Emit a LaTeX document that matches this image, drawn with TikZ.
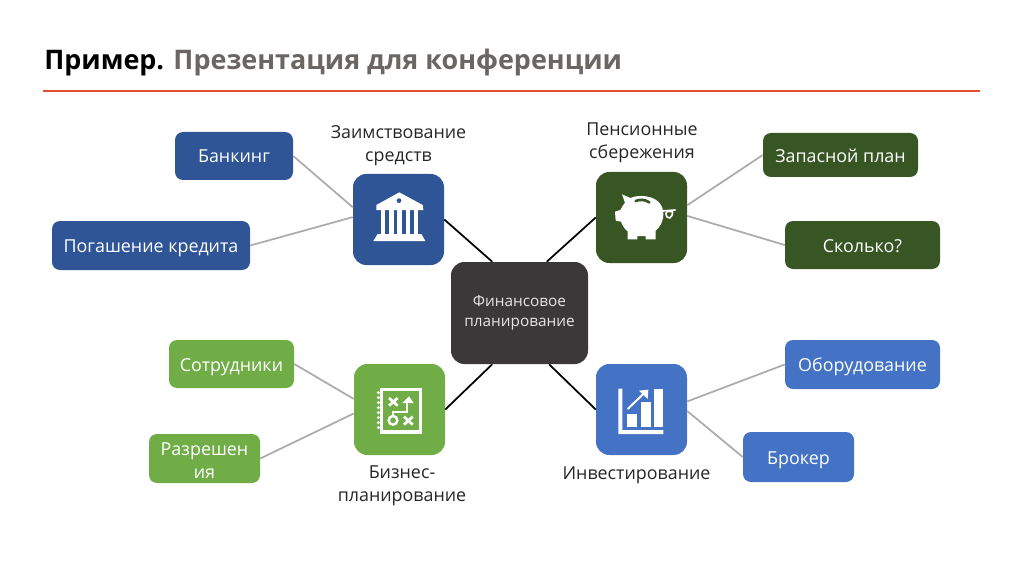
\documentclass[tikz,border=0pt]{standalone}
\usepackage{fontspec}
\setmainfont{Open Sans}
\usetikzlibrary{positioning,arrows.meta}
\definecolor{cbank}{HTML}{2F5597}
\definecolor{cpig}{HTML}{375623}
\definecolor{cbiz}{HTML}{70AD47}
\definecolor{cinv}{HTML}{4472C4}
\definecolor{ccore}{HTML}{3A3838}
\definecolor{ctitle}{HTML}{6B6663}
\definecolor{crule}{HTML}{E2502F}
\tikzset{
  leaf/.style={rounded corners=6pt,text=white,align=center,font=\fontsize{13.4}{17}\selectfont,inner sep=0pt},
  hub/.style={rounded corners=10pt,minimum width=68.25pt,minimum height=68.25pt,inner sep=0pt},
  core/.style={rounded corners=10pt,fill=ccore,text=white!90!black,align=center,minimum width=102.75pt,minimum height=76.5pt,inner sep=0pt,font=\fontsize{11.5}{15.2}\selectfont},
  hubcap/.style={align=center,text=black!85,font=\fontsize{13.4}{17.4}\selectfont,inner sep=0pt},
  spoke/.style={line width=1.3pt,black},
  twig/.style={line width=1.3pt,black!33},
  icon/.style={shift={#1},x=.25pt,y=-.25pt},
}
\begin{document}
\begin{tikzpicture}[x=.75pt,y=-.75pt]
  \useasboundingbox (0,0) rectangle (1024,574);
  % title
  \node[anchor=base west,inner sep=0pt,font=\fontsize{20.2}{26}\bfseries\selectfont] (title) at (44,70)
    {Пример. \textcolor{ctitle}{Презентация для конференции}};
  \coordinate (ruleL) at (43,91);
  \coordinate (ruleR) at (980,91);
  \draw[line width=1.3pt,crule] (ruleL) -- (ruleR);

  % centre and the four hubs
  \node[core] (core) at (519.5,313) {Финансовое\\планирование};
  \foreach \n/\x/\y/\c in {bank/398.5/219.5/cbank, pig/641.5/217.5/cpig,
                           biz/399.5/409.5/cbiz, inv/641.5/409.5/cinv}{
    \node[hub,fill=\c] (\n) at (\x,\y) {};
  }

  % leaves
  \foreach \n/\x/\y/\w/\h/\c/\t in {banking/234/156/88.5/36/cbank/Банкинг,
      credit/151/245.5/148.5/36.75/cbank/Погашение кредита,
      spare/840.5/155/116.25/33/cpig/Запасной план,
      howmuch/862.5/245/116.25/36/cpig/Сколько?,
      staff/231.5/364/93.75/36/cbiz/Сотрудники,
      equip/862.5/364.5/116.25/36.75/cinv/Оборудование,
      broker/798.5/457/83.25/37.5/cinv/Брокер}{
    \node[leaf,fill=\c,text height=10.5pt,text depth=0pt,minimum width=\w pt,minimum height=\h pt] (\n) at (\x,\y) {\t};
  }
  \node[leaf,fill=cbiz,minimum width=83.25pt,minimum height=36.75pt] (permit) at (204.5,458.5)
    {\rule{0pt}{12.5pt}Разрешен\\ия};

  % captions
  \node[hubcap] (capbank) at (398.5,146) {Заимствование\\средств};
  \node[hubcap] (cappig) at (642,142.5) {Пенсионные\\сбережения};
  \node[hubcap] (capbiz) at (402,485.5) {Бизнес-\\планирование};
  \node[hubcap] (capinv) at (636.5,475) {Инвестирование};

  % connectors
  \draw[spoke] (bank.east) -- (core.118);
  \draw[spoke] (pig.west) -- (core.62);
  \draw[spoke] (biz.east) -- (core.-118);
  \draw[spoke] (inv.west) -- (core.-60);
  \draw[twig] (banking.east) -- (bank.165);
  \draw[twig] (credit.east) -- (bank.177);
  \draw[twig] (pig.15) -- (spare.west);
  \draw[twig] (pig.2) -- (howmuch.west);
  \draw[twig] (staff.east) -- (biz.167);
  \draw[twig] (permit.east) -- (biz.185);
  \draw[twig] (inv.10) -- (equip.west);
  \draw[twig] (inv.-2) -- (broker.west);

  % bank icon
  \begin{scope}[icon={(340,160)}]
    \fill[white] (178,97) -- (248,135) -- (250,150) -- (109,150) -- (109,135) -- cycle;
    \fill[cbank] (177,122) circle (7);
    \foreach \x in {122,148,172,197,222}{
      \fill[white] (\x,150) rectangle (\x+13,222);
    }
    \fill[white] (113,222) -- (244,222) -- (256,243) -- (100,243) -- cycle;
  \end{scope}

  % piggy icon
  \begin{scope}[icon={(585,160)}]
    \fill[white] (111,103) -- (136,114) .. controls (160,103) and (210,105) .. (228,135)
      .. controls (240,155) and (238,190) .. (212,212) -- (212,238) -- (182,238)
      -- (182,228) -- (157,228) -- (157,238) -- (128,238) -- (128,214)
      .. controls (118,207) and (112,195) .. (108,185) -- (92,182) -- (90,155) -- (106,150)
      .. controls (110,142) and (114,135) .. (120,128) -- cycle;
    \draw[cpig,line width=2pt,line cap=round] (152,123) .. controls (165,118) and (180,118) .. (193,127);
    \draw[white,line width=1.3pt] (232,153) -- (272,150);
    \draw[white,line width=1.2pt] (262,150) .. controls (266,178) and (244,182) .. (243,160)
      .. controls (243,154) and (254,152) .. (262,155);
  \end{scope}

  % plan icon
  \begin{scope}[icon={(345,355)}]
    \draw[white,line width=2.6pt] (110,104) rectangle (226,231);
    \foreach \y in {113,128,143,158,173,188,203,218}{
      \fill[white] (100,\y) circle (5);
    }
    \draw[white,line width=2pt] (132,129) -- (158,152) (158,129) -- (132,152);
    \draw[white,line width=2pt] (177,185) -- (203,209) (203,185) -- (177,209);
    \draw[white,line width=1.8pt] (144,196) circle (13);
    \draw[white,line width=1.6pt] (144,182) -- (144,172) -- (185,172) -- (185,142);
    \fill[white] (172,144) -- (192,124) -- (206,144) -- cycle;
  \end{scope}

  % chart icon
  \begin{scope}[icon={(585,355)}]
    \fill[white] (100,101) rectangle (112,225) (100,225) rectangle (235,237);
    \fill[white] (127,177) rectangle (155,215);
    \fill[white] (167,140) rectangle (197,215);
    \fill[white] (207,103) rectangle (235,215);
    \draw[white,line width=1.5pt] (128,162) -- (178,114);
    \fill[white] (162,107) -- (190,104) -- (188,132) -- cycle;
  \end{scope}
\end{tikzpicture}
\end{document}
